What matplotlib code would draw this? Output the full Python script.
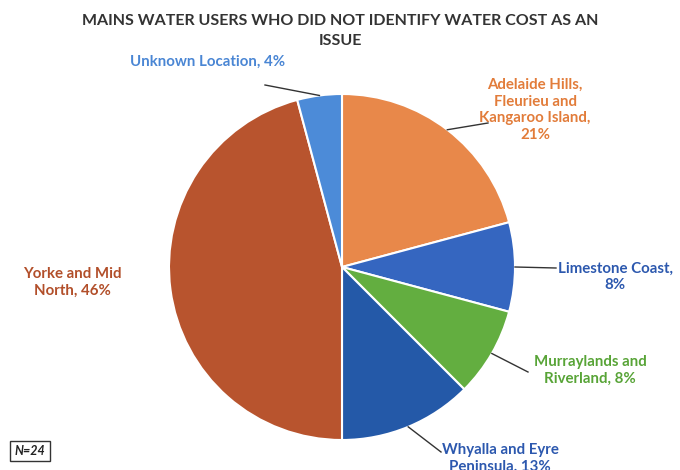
import numpy as np
import matplotlib.pyplot as plt

# data (N=24 respondents)
regions = ['Adelaide Hills,\nFleurieu and\nKangaroo Island,\n21%',
           'Limestone Coast,\n8%',
           'Murraylands and\nRiverland, 8%',
           'Whyalla and Eyre\nPeninsula, 13%',
           'Yorke and Mid\nNorth, 46%',
           'Unknown Location, 4%']
counts = [5, 2, 2, 3, 11, 1]
slice_colors = ['#E8884A', '#3566C0', '#63AE40', '#2459A8', '#B8542E', '#4C8BD8']
text_colors = ['#E27C3A', '#2C58AE', '#58A437', '#2C58AE', '#B24F2A', '#4A86D4']
# label anchor (x, y in px from top), leader end
label_pos = [(535, 110), (615, 277), (590, 370), (500, 458), (72, 282), (208, 62)]
leader_end = [(488, 123), (556, 268), (528, 372), (441, 452), None, (265, 85)]

title = 'MAINS WATER USERS WHO DID NOT IDENTIFY WATER COST AS AN\nISSUE'

W, H = 680, 470
cx, cy, r = 342, 267, 173


def main():
    plt.rcParams['font.family'] = ['Lato', 'DejaVu Sans']
    fig = plt.figure(figsize=(W / 100, H / 100), dpi=100)
    ax = fig.add_axes([0, 0, 1, 1])

    wedges, _ = ax.pie(counts, colors=slice_colors, startangle=90, counterclock=False,
                       center=(cx, H - cy), radius=r,
                       wedgeprops=dict(edgecolor='white', linewidth=1.5))
    ax.set_xlim(0, W)
    ax.set_ylim(0, H)
    ax.set_aspect('equal')
    ax.axis('off')

    for i, w in enumerate(wedges):
        mid = np.deg2rad((w.theta1 + w.theta2) / 2)
        px, py = cx + r * np.cos(mid), H - cy + r * np.sin(mid)
        lx, ly = label_pos[i]
        ax.text(lx, H - ly, regions[i], color=text_colors[i], fontsize=10.8, fontweight='bold',
                ha='center', va='center', linespacing=1.25)
        if leader_end[i] is not None:
            ex, ey = leader_end[i]
            ax.plot([px, ex], [py, H - ey], color='#333333', lw=1)

    ax.text(340, H - 31, title, ha='center', va='center', fontsize=11.5, color='#333333',
            fontweight='bold', linespacing=1.5)

    ax.text(30, H - 451, 'N=24', ha='center', va='center', fontsize=9, fontstyle='italic',
            fontweight='bold', color='#222222',
            bbox=dict(boxstyle='square,pad=0.35', fc='white', ec='#333333', lw=1))

    fig.savefig('out.png', dpi=100)


if __name__ == '__main__':
    main()
